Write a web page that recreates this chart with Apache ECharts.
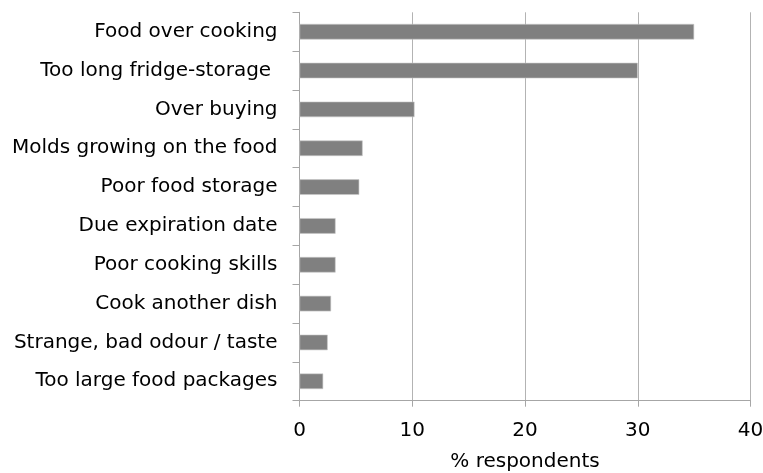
<!DOCTYPE html>
<html><head><meta charset="utf-8">
<script src="https://cdn.jsdelivr.net/npm/echarts@6/dist/echarts.min.js"></script>
<style>html,body{margin:0;padding:0;background:#fff}#c{width:763px;height:473px}</style>
</head><body><div id="c"></div>
<script>
const categories = ["Food over cooking","Too long fridge-storage ","Over buying","Molds growing on the food","Poor food storage","Due expiration date","Poor cooking skills","Cook another dish","Strange, bad odour / taste","Too large food packages"];
const values = [35, 30, 10.2, 5.6, 5.3, 3.2, 3.2, 2.8, 2.5, 2.1];
const xTitle = "% respondents";
const chart = echarts.init(document.getElementById('c'));
const font = 'DejaVu Sans';
chart.setOption({
  animation:false,
  grid:{left:299.5,right:12.5,top:12.3,bottom:72.3,containLabel:false,outerBoundsMode:'none'},
  xAxis:{type:'value',min:0,max:40,interval:10,
    name:xTitle,nameLocation:'middle',nameGap:51,
    nameTextStyle:{fontFamily:font,fontSize:20,color:'#000'},
    axisLine:{show:true,lineStyle:{color:'#a6a6a6',width:1}},
    axisTick:{show:true,length:6,lineStyle:{color:'#a6a6a6'}},
    axisLabel:{fontFamily:font,fontSize:20,color:'#000',margin:20},
    splitLine:{show:true,lineStyle:{color:'#b3b3b3',width:1}}},
  yAxis:{type:'category',data:categories,inverse:true,
    axisLine:{show:true,lineStyle:{color:'#a6a6a6',width:1}},
    axisTick:{show:true,length:7,alignWithLabel:false,lineStyle:{color:'#a6a6a6'}},
    axisLabel:{fontFamily:font,fontSize:20,color:'#000',margin:22}},
  series:[{type:'bar',data:values,barWidth:'40%',
    itemStyle:{color:'#808080',borderColor:'#c8c8c8',borderWidth:0.6}}]
});
</script></body></html>
